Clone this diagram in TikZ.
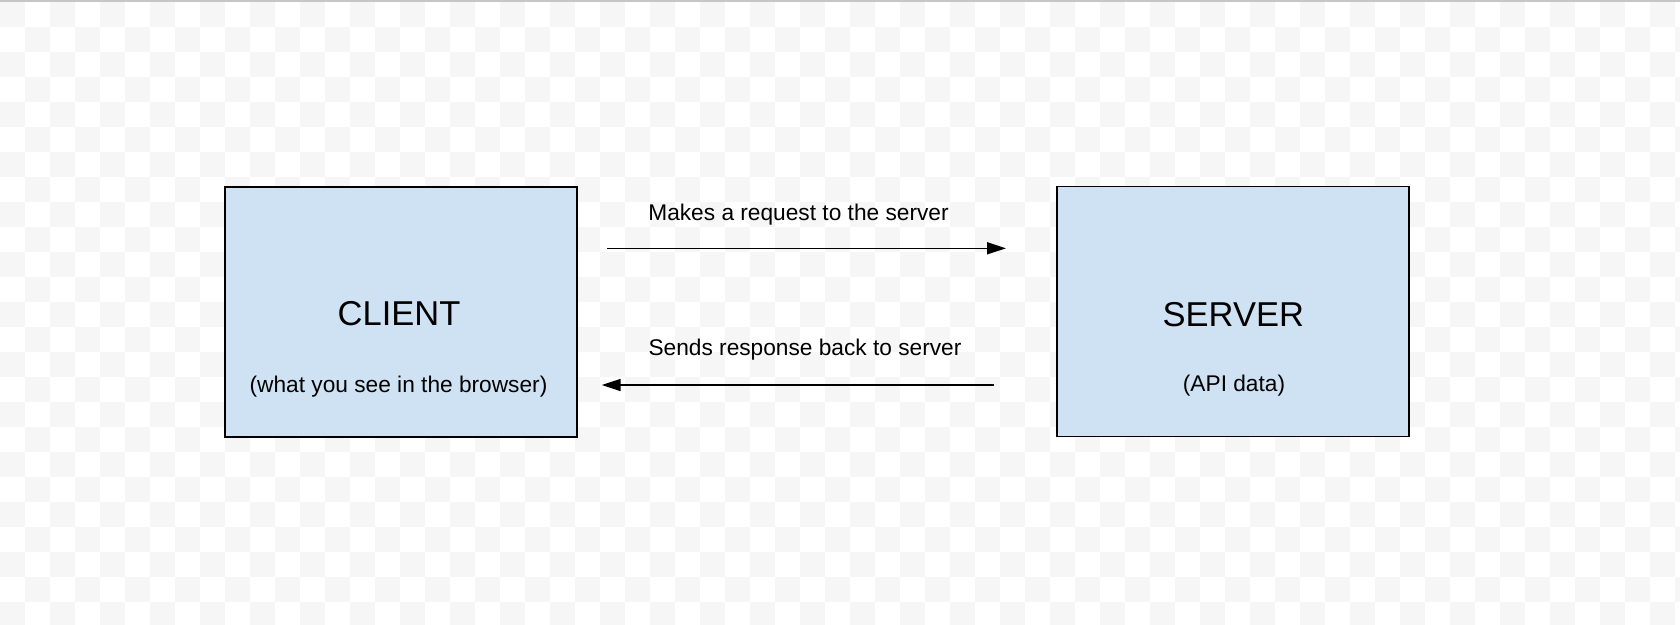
\documentclass[tikz,border=0pt]{standalone}
\usepackage{fontspec}
\setmainfont{Liberation Sans}
\usetikzlibrary{arrows.meta}
\definecolor{boxfill}{HTML}{CFE2F3}
\definecolor{checker}{HTML}{F6F6F6}
\definecolor{topline}{HTML}{C6C6C6}
\tikzset{
  entity/.style={draw=black, fill=boxfill, line width=1.6pt, minimum width=352pt, minimum height=250pt, inner sep=0pt},
  bigtext/.style={inner sep=0pt, anchor=base, font=\fontsize{34.5}{40}\selectfont},
  smalltext/.style={inner sep=0pt, anchor=base, font=\fontsize{22.7}{27}\selectfont},
  flow/.style={line width=1.6pt, -{Triangle[length=19pt,width=12pt]}},
}
\begin{document}
\begin{tikzpicture}[x=1pt,y=-1pt]
\useasboundingbox (0,0) rectangle (1680,624);
\begin{scope}
\clip (0,0) rectangle (1680,624);
\fill[white] (0,0) rectangle (1680,624);
\foreach \j in {0,2,...,24} \foreach \i in {0,2,...,66} \fill[checker] (\i*25,2+\j*25) rectangle ++(25,25);
\foreach \j in {1,3,...,23} \foreach \i in {1,3,...,67} \fill[checker] (\i*25,2+\j*25) rectangle ++(25,25);
\fill[topline] (0,0) rectangle (1680,2);
\end{scope}
\node[entity] (client) at (401,311.7) {};
\node[entity] (server) at (1232.8,311.6) {};
\node[bigtext] (clientname) at (399,325) {CLIENT};
\node[smalltext] (clientsub) at (398.5,392) {(what you see in the browser)};
\node[bigtext] (servername) at (1233.3,326) {SERVER};
\node[smalltext] (serversub) at (1234,391) {(API data)};
\node[smalltext] (reqlabel) at (798.5,220) {Makes a request to the server};
\node[smalltext] (reslabel) at (805,355.7) {Sends response back to server};
\coordinate (reqstart) at (607,248.3);
\coordinate (reqend) at (1006,248.3);
\coordinate (resstart) at (994,385);
\coordinate (resend) at (601.7,385);
\draw[flow] (reqstart) -- (reqend);
\draw[flow] (resstart) -- (resend);
\end{tikzpicture}
\end{document}
